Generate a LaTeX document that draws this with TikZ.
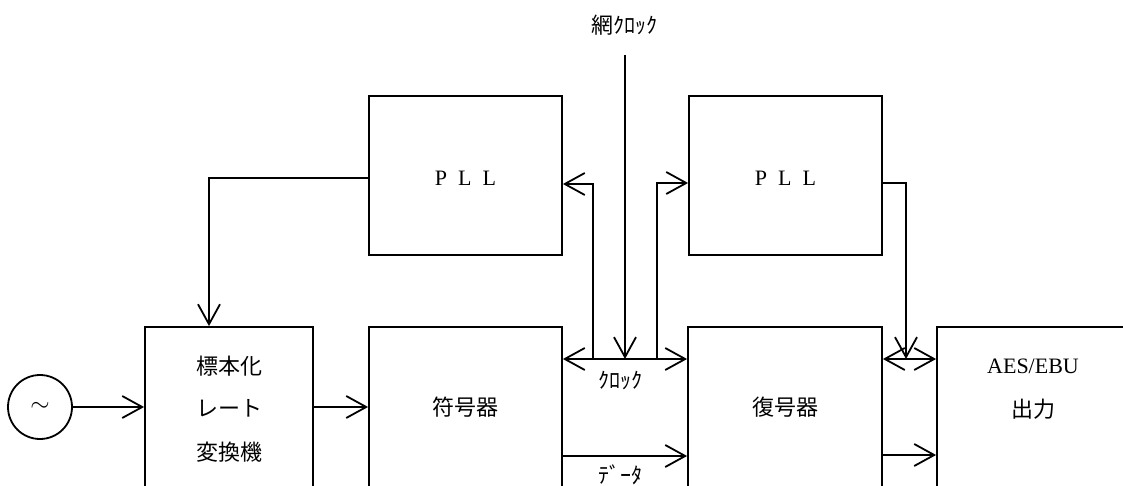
\documentclass[tikz,border=0pt]{standalone}
\usepackage{fontspec}
\setmainfont{Liberation Serif}
\newfontfamily\jp{Noto Sans CJK JP}
\usetikzlibrary{arrows.meta}
\begin{document}
\begin{tikzpicture}[x=1pt,y=-1pt,
  lw/.style={line width=1.8pt},
  box/.style={draw, lw, inner sep=0pt},
  arr/.style={lw, -{Straight Barb[length=20pt,width=22pt]}},
  darr/.style={lw, {Straight Barb[length=20pt,width=22pt]}-{Straight Barb[length=20pt,width=22pt]}},
  jptxt/.style={font=\jp\fontsize{22}{26}\selectfont, inner sep=0pt},
  smalljp/.style={font=\jp\fontsize{22}{26}\selectfont, inner sep=0pt},
  lat/.style={font=\fontsize{22}{26}\selectfont, inner sep=0pt}]
\useasboundingbox (0,0) rectangle (1123,486);
\clip (0,0) rectangle (1123,486);
% boxes
\node[box, minimum width=193pt, minimum height=159pt] (pll1) at (465.5,175.5) {};
\node[box, minimum width=193pt, minimum height=159pt] (pll2) at (785.5,175.5) {};
\node[box, minimum width=168pt, minimum height=183pt] (smp) at (229,418.5) {};
\node[box, minimum width=193pt, minimum height=183pt] (enc) at (465.5,418.5) {};
\node[box, minimum width=194pt, minimum height=183pt] (dec) at (785,418.5) {};
\node[box, minimum width=203pt, minimum height=183pt] (aes) at (1038.5,418.5) {};
\node[draw, lw, circle, minimum size=64pt, inner sep=0pt] (gen) at (40,407) {};
% texts
\node[lat] (t1) at (465.5,178) {P\hspace{11pt}L\hspace{11pt}L};
\node[lat] (t2) at (785.5,178) {P\hspace{11pt}L\hspace{11pt}L};
\node[jptxt] (t3) at (229,366) {標本化};
\node[jptxt] (t4) at (229,408) {レート};
\node[jptxt] (t5) at (229,452) {変換機};
\node[jptxt] (t6) at (465.5,407) {符号器};
\node[jptxt] (t7) at (785,407) {復号器};
\node[lat] (t8) at (1033,366) {AES/EBU};
\node[jptxt] (t9) at (1033,409) {出力};
\node[font=\fontsize{26}{30}\selectfont, inner sep=0pt] (t10) at (gen) {$\sim$};
\node[smalljp] (lnc) at (624,25) {網ｸﾛｯｸ};
\node[smalljp] (lclk) at (620,380) {ｸﾛｯｸ};
\node[smalljp] (ldat) at (620,475) {ﾃﾞｰﾀ};
% coordinates
\coordinate (clk) at (625,359);
\coordinate (nc) at (625,55);
\coordinate (c1) at (209,178);
\coordinate (b1) at (593,359);
\coordinate (p1i) at (593,184);
\coordinate (b2) at (657,359);
\coordinate (p2i) at (657,183);
\coordinate (p2o) at (906,183);
\coordinate (p2d) at (906,359);
\coordinate (dat) at (625,456);
\coordinate (dat2) at (900,455);
% connectors
\draw[arr] (gen.east) -- (smp.west |- gen.east);
\draw[arr] (smp.east |- gen.east) -- (enc.west |- gen.east);
\draw[arr] (pll1.west |- c1) -- (c1) -- (c1 |- smp.north);
\draw[darr] (enc.east |- clk) -- (dec.west |- clk);
\draw[arr] (nc) -- (clk);
\draw[arr] (b1) -- (p1i) -- (pll1.east |- p1i);
\draw[arr] (b2) -- (p2i) -- (pll2.west |- p2i);
\draw[arr] (pll2.east |- p2o) -- (p2o) -- (p2d);
\draw[darr] (dec.east |- clk) -- (aes.west |- clk);
\draw[arr] (enc.east |- dat) -- (dec.west |- dat);
\draw[arr] (dec.east |- dat2) -- (aes.west |- dat2);
\end{tikzpicture}
\end{document}
